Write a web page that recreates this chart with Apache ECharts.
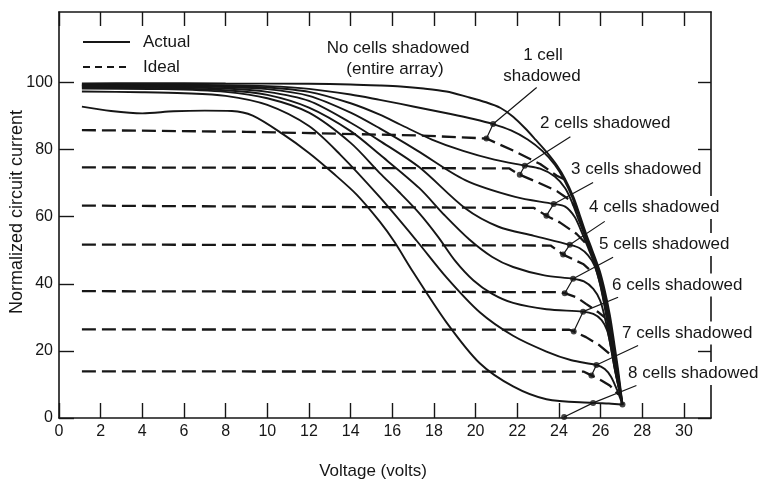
<!DOCTYPE html>
<html><head><meta charset="utf-8">
<script src="https://cdn.jsdelivr.net/npm/echarts@6/dist/echarts.min.js"></script>
<style>html,body{margin:0;padding:0;background:#fff}#c{width:760px;height:481px}</style>
</head><body><div id="c"></div>
<script>
// ---- data ----
const xTicks = [0,2,4,6,8,10,12,14,16,18,20,22,24,26,28,30];
const yTicks = [0,20,40,60,80,100];

const noCells = [[1.1,99.7],[4,99.8],[8,99.7],[12,99.6],[14,99.4],[15.4,99.1],[16.4,98.8],[17.5,98.2],[18.6,97.3],[19.6,95.7],[20.5,94.1],[21.2,92.4],[21.8,89.8],[22.4,86.2],[22.9,82.8],[23.4,79.3],[23.9,75.3],[24.3,71.2],[24.7,65.8],[25.0,60.5],[25.3,55],[25.6,50],[25.95,44],[26.2,38],[26.45,30.5],[26.65,22.5],[26.85,14],[27.05,4]];
const cells1 = [[1.1,99.4],[5,99.4],[8,99.2],[10,98.9],[12,98.1],[14,96.4],[15.4,94.8],[16.4,93.6],[17.6,92.1],[18.8,90.6],[19.9,89.1],[20.84,87.6],[21.7,85.7],[22.5,83],[23.2,79.6],[23.8,75.5],[24.25,71],[24.65,65.6],[24.95,60.3],[25.25,55],[25.55,50],[25.9,44],[26.15,38],[26.4,30.5],[26.6,22.5],[26.82,14],[27.05,4]];
const cells2 = [[1.1,99.2],[5,99.1],[8,98.9],[10,98.5],[12,97.2],[14,93.8],[15.4,90.4],[16.4,87.4],[17.9,83],[19.4,79.6],[20.9,77],[22.36,75.2],[23.1,74.3],[23.8,72],[24.3,68.5],[24.65,64],[24.92,59.5],[25.2,55],[25.5,50],[25.85,44],[26.1,38],[26.35,30.5],[26.57,22.5],[26.8,14],[27.05,4]];
const cells3 = [[1.1,99.0],[5,98.9],[8,98.6],[10,98],[12,96],[14,91],[15.4,86.3],[17.2,79.7],[19.5,70.9],[21.9,65.9],[23.75,63.8],[24.3,63],[24.75,60],[25.05,56],[25.35,51.5],[25.7,46],[26.0,39.5],[26.25,32],[26.5,23],[26.75,14],[27.05,4]];
const cells4 = [[1.1,98.8],[5,98.6],[8,98.2],[10,97.2],[12,94.5],[14,88],[15.4,82.6],[17.3,74.7],[19.5,62.5],[21.1,57],[22.8,54.3],[24.52,51.6],[25.0,50.6],[25.4,48.5],[25.7,45.5],[25.95,40.5],[26.2,33],[26.45,24],[26.72,14],[27.05,4]];
const cells5 = [[1.1,98.5],[5,98.3],[8,97.7],[10,96.3],[12,92.5],[14,85.5],[15.4,78.5],[17.3,68.5],[18.5,60.5],[19.7,53.2],[20.8,48],[21.8,45],[23.3,42.5],[24.68,41.5],[25.2,40.7],[25.65,38.5],[25.98,35],[26.2,30],[26.42,23.5],[26.7,14],[27.05,4]];
const cells6 = [[1.1,98.2],[5,98],[8,97.2],[10,95.3],[12,91],[14,82],[15.4,73],[16.3,67.5],[17.3,61],[18.2,54],[19.0,47],[19.9,41],[20.8,37],[21.8,34.3],[23.4,32.4],[25.16,31.7],[25.65,31],[26.05,29.2],[26.32,26],[26.5,21],[26.7,14],[27.05,4]];
const cells7 = [[1.1,97.3],[4,97.1],[6,96.8],[8,96],[10,93.3],[12,87],[13.5,78.5],[15.4,65.8],[17.16,52.9],[18.6,41.9],[20.2,31.5],[21.8,24.5],[23.4,19.8],[24.6,17.2],[25.8,15.8],[26.2,14.6],[26.5,12.3],[26.78,8.5],[27.05,4]];
const cells8 = [[1.1,92.8],[2.5,91.5],[4,90.8],[5.5,91.4],[7,91.6],[8.3,91.5],[9.3,90.1],[10.75,84.6],[12,79],[13.15,73],[14.3,66.5],[15.4,58.5],[16.1,52.5],[17,43.5],[18.6,28.5],[20.2,16.3],[21.8,9.4],[23.4,5.6],[25.64,4.5],[26.4,4.3],[27.05,4]];

const ideal1 = [[1.1,85.8],[9,85.3],[17.3,84.2],[20.52,83.3],[21.8,79.7],[23.1,75.7],[23.9,72.2],[24.3,71]];
const ideal2 = [[1.1,74.7],[21.6,74.4],[22.12,72.5],[23.0,70.2],[23.9,67.6],[24.6,64.6],[24.95,61]];
const ideal3 = [[1.1,63.3],[16.35,62.8],[22.8,62.6],[23.4,60.3],[24.04,58.3],[24.84,54.9],[25.3,52]];
const ideal4 = [[1.1,51.7],[23.6,51.4],[24.2,48.7],[25.16,45.9],[25.6,43.5]];
const ideal5 = [[1.1,37.8],[24.0,37.5],[24.28,37.2],[24.84,36],[25.3,34],[25.9,31.5],[26.2,30]];
const ideal6 = [[1.1,26.4],[24.5,26.3],[24.71,25.8],[25.3,24.1],[25.96,21.6],[26.45,19]];
const ideal7 = [[1.1,13.9],[25.2,13.8],[25.56,12.7],[26.04,11.2],[26.44,9.7],[26.85,7]];

const actualKnees = [[20.84,87.6],[22.36,75.2],[23.75,63.8],[24.52,51.6],[24.68,41.5],[25.16,31.7],[25.8,15.8],[25.64,4.5]];
const idealKnees  = [[20.52,83.3],[22.12,72.5],[23.4,60.3],[24.2,48.7],[24.28,37.2],[24.71,25.8],[25.56,12.7],[24.25,0.3]];
const leaderStarts = [[22.93,98.5],[24.55,83.8],[25.64,70.2],[26.2,58.6],[26.6,47.9],[26.84,36.0],[27.8,21.6],[27.72,9.7]];
const endPoint = [[27.05,4]];

const cellLabels = ['2 cells shadowed','3 cells shadowed','4 cells shadowed','5 cells shadowed','6 cells shadowed','7 cells shadowed','8 cells shadowed'];

// ---- chart ----
const FONT = '"Liberation Sans", Arial, Helvetica, sans-serif';
const INK = '#161616';
const chart = echarts.init(document.getElementById('c'));

const actualSets = [noCells, cells1, cells2, cells3, cells4, cells5, cells6, cells7, cells8];
const idealSets = [ideal1, ideal2, ideal3, ideal4, ideal5, ideal6, ideal7];

const series = [];
actualSets.forEach(d => series.push({
  type:'line', data:d, smooth:0.3, showSymbol:false, silent:true,
  lineStyle:{color:INK, width:1.9}
}));
idealSets.forEach(d => series.push({
  type:'line', data:d, smooth:false, showSymbol:false, silent:true,
  lineStyle:{color:INK, width:2.3, type:[14,6]}
}));
leaderStarts.forEach((s,i) => series.push({
  type:'line', data:[s, actualKnees[i], idealKnees[i]], smooth:false, showSymbol:false, silent:true,
  lineStyle:{color:INK, width:1.2}, clip:false
}));
series.push({type:'scatter', data:actualKnees.concat(idealKnees, endPoint), symbolSize:6, itemStyle:{color:INK}, silent:true, clip:false, z:5});

// label layout (pixel positions of annotation text)
const labelPos = [[538,123],[569,169.5],[587,207.5],[597,244.5],[610,285],[620,333],[626,373.5]];
const txt = (text, x, y, align, extra) => ({
  type:'text', x:x, y:y, z:100,
  style:Object.assign({text:text, font:'17px '+FONT, fill:INK, textAlign:align, align:align, textVerticalAlign:'middle', verticalAlign:'middle'}, extra||{})
});

const graphic = [
  {type:'line', z:100, shape:{x1:83,y1:42,x2:130,y2:42}, style:{stroke:INK, lineWidth:2}},
  {type:'line', z:100, shape:{x1:83,y1:67,x2:130,y2:67}, style:{stroke:INK, lineWidth:2, lineDash:[7,5]}},
  txt('Actual',143,42,'left'),
  txt('Ideal',143,67,'left'),
  txt('No cells shadowed',398,48,'center'),
  txt('(entire array)',395,69,'center'),
  txt('1 cell',543,55,'center'),
  txt('shadowed',542,76,'center'),
  txt('Voltage (volts)',373,471,'center'),
  {type:'text', x:17, y:212, rotation:Math.PI/2, z:100,
   style:{text:'Normalized circuit current', font:'18px '+FONT, fill:INK, textAlign:'center', align:'center', textVerticalAlign:'middle', verticalAlign:'middle'}}
];
cellLabels.forEach((t,i) => graphic.push(txt(t, labelPos[i][0], labelPos[i][1], 'left', {backgroundColor:'#fff', padding:[3,2,3,2]})));

const axisLine = {show:true, onZero:false, lineStyle:{color:INK, width:1.6}};
chart.setOption({
  animation:false,
  backgroundColor:'#fff',
  grid:{left:59, right:49, top:12, bottom:63},
  xAxis:[
    {type:'value', position:'bottom', min:0, max:31.3, axisLine:axisLine,
     axisTick:{show:true, inside:true, length:15, customValues:xTicks, lineStyle:{color:INK, width:1.4}},
     axisLabel:{show:true, customValues:xTicks, margin:6, fontSize:16, fontFamily:FONT, color:INK},
     splitLine:{show:false}},
    {type:'value', position:'top', min:0, max:31.3, axisLine:axisLine,
     axisTick:{show:true, inside:true, length:14, customValues:xTicks, lineStyle:{color:INK, width:1.4}},
     axisLabel:{show:false}, splitLine:{show:false}}
  ],
  yAxis:[
    {type:'value', position:'left', min:0, max:121, axisLine:axisLine,
     axisTick:{show:true, inside:true, length:15, customValues:yTicks, lineStyle:{color:INK, width:1.4}},
     axisLabel:{show:true, customValues:yTicks, margin:6, fontSize:16, fontFamily:FONT, color:INK},
     splitLine:{show:false}},
    {type:'value', position:'right', min:0, max:121, axisLine:axisLine,
     axisTick:{show:true, inside:true, length:13, customValues:yTicks, lineStyle:{color:INK, width:1.4}},
     axisLabel:{show:false}, splitLine:{show:false}}
  ],
  series:series,
  graphic:graphic
});
</script></body></html>
